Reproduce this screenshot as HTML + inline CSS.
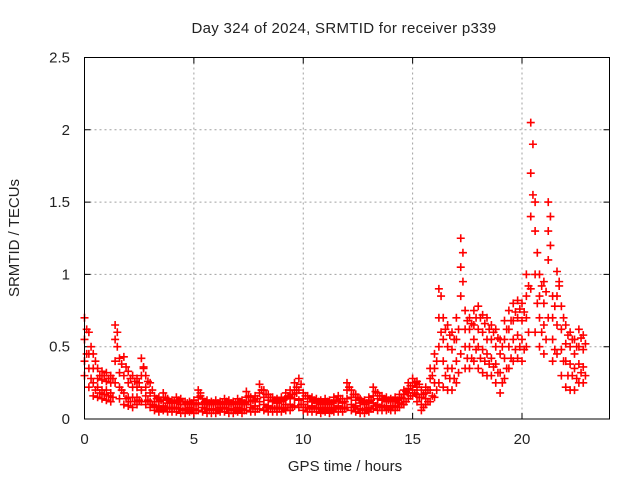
<!DOCTYPE html>
<html><head><meta charset="utf-8"><style>
body{margin:0;background:#fff}
svg{display:block;font-family:"Liberation Sans",sans-serif;font-size:15px;fill:#222}
</style></head><body>
<svg id="chart" width="640" height="480" viewBox="0 0 640 480" xmlns="http://www.w3.org/2000/svg">
<rect width="640" height="480" fill="#fff"/>
<text x="344" y="33" text-anchor="middle" style="letter-spacing:0.3px">Day 324 of 2024, SRMTID for receiver p339</text>
<text transform="translate(19,238) rotate(-90)" text-anchor="middle">SRMTID / TECUs</text>
<text x="345" y="471" text-anchor="middle">GPS time / hours</text>
<g id="grid"></g>
<g id="ticks"></g>
<g id="points"></g>
<rect x="84.5" y="57.5" width="525" height="361.5" fill="none" stroke="#000" stroke-width="1"/>
</svg>
<script>
const xTicks=[0,5,10,15,20];
const yTicks=[0,0.5,1,1.5,2,2.5];
const yTickLabels=["0","0.5","1","1.5","2","2.5"];
const timeStep=0.2;
const seriesLow=[0.30,0.22,0.16,0.15,0.14, 0.13,0.12,0.25,0.14,0.10, 0.09,0.08,0.10,0.12,0.10, 0.08,0.06,0.05,0.06,0.05, 0.05,0.05,0.04,0.04,0.05, 0.04,0.06,0.05,0.04,0.04, 0.04,0.05,0.05,0.04,0.04, 0.05,0.04,0.06,0.05,0.05, 0.07,0.06,0.05,0.05,0.05, 0.05,0.06,0.06,0.09,0.08, 0.06,0.05,0.05,0.05,0.04, 0.05,0.04,0.05,0.05,0.05, 0.08,0.06,0.05,0.04,0.04, 0.05,0.07,0.06,0.06,0.06, 0.06,0.06,0.08,0.10,0.14, 0.16,0.12,0.06,0.10,0.12, 0.15,0.25,0.22,0.20,0.20, 0.25,0.45,0.35,0.35,0.40, 0.35,0.32,0.30,0.30,0.25, 0.18,0.28,0.35,0.40,0.42, 0.40,0.50,0.90,0.60,0.50, 0.45,0.70,0.40,0.45,0.30, 0.22,0.20,0.20,0.25,0.25];
const seriesMidLow=[0.40,0.35,0.25,0.22,0.20, 0.20,0.18,0.40,0.22,0.18, 0.15,0.15,0.15,0.20,0.16, 0.12,0.09,0.08,0.09,0.08, 0.08,0.08,0.07,0.07,0.08, 0.07,0.10,0.08,0.07,0.07, 0.07,0.08,0.08,0.07,0.07, 0.08,0.07,0.10,0.08,0.09, 0.12,0.10,0.09,0.08,0.08, 0.08,0.10,0.10,0.14,0.13, 0.10,0.08,0.09,0.08,0.07, 0.08,0.07,0.08,0.09,0.08, 0.14,0.10,0.09,0.07,0.07, 0.08,0.11,0.10,0.09,0.09, 0.09,0.09,0.11,0.14,0.18, 0.20,0.17,0.10,0.14,0.20, 0.25,0.50,0.40,0.35,0.35, 0.40,0.85,0.50,0.50,0.55, 0.50,0.48,0.45,0.42,0.38, 0.32,0.42,0.50,0.55,0.58, 0.55,0.70,1.40,1.00,0.70, 0.65,1.10,0.55,0.65,0.48, 0.40,0.38,0.35,0.38,0.36];
const seriesMidHigh=[0.55,0.45,0.35,0.28,0.27, 0.26,0.25,0.55,0.32,0.30, 0.25,0.22,0.22,0.30,0.22, 0.18,0.12,0.12,0.13,0.11, 0.11,0.11,0.10,0.10,0.10, 0.10,0.15,0.11,0.10,0.10, 0.10,0.10,0.11,0.10,0.10, 0.11,0.10,0.15,0.12,0.12, 0.18,0.15,0.13,0.12,0.11, 0.12,0.14,0.15,0.20,0.20, 0.14,0.12,0.12,0.11,0.10, 0.11,0.10,0.12,0.12,0.11, 0.20,0.15,0.13,0.11,0.10, 0.12,0.16,0.14,0.13,0.12, 0.12,0.12,0.14,0.17,0.21, 0.23,0.22,0.15,0.18,0.28, 0.35,0.70,0.55,0.50,0.48, 0.55,1.05,0.62,0.62,0.65, 0.62,0.60,0.55,0.55,0.50, 0.45,0.55,0.62,0.68,0.70, 0.68,0.85,1.70,1.30,0.85, 0.80,1.30,0.70,0.85,0.62, 0.52,0.50,0.45,0.50,0.48];
const seriesHigh=[0.70,0.60,0.45,0.35,0.33, 0.32,0.30,0.65,0.42,0.43, 0.33,0.30,0.28,0.42,0.30, 0.25,0.16,0.15,0.18,0.14, 0.13,0.15,0.14,0.12,0.12, 0.13,0.20,0.14,0.13,0.12, 0.13,0.12,0.14,0.13,0.12, 0.14,0.13,0.19,0.15,0.16, 0.24,0.20,0.17,0.15,0.14, 0.15,0.18,0.20,0.25,0.28, 0.18,0.16,0.15,0.14,0.13, 0.14,0.13,0.15,0.16,0.14, 0.25,0.20,0.17,0.14,0.13, 0.15,0.22,0.18,0.16,0.15, 0.14,0.15,0.17,0.20,0.25, 0.28,0.26,0.20,0.22,0.35, 0.45,0.90,0.70,0.65,0.60, 0.70,1.25,0.75,0.70,0.75, 0.78,0.72,0.70,0.65,0.62, 0.55,0.68,0.75,0.80,0.82, 0.80,1.00,2.05,1.50,1.00, 0.95,1.50,0.85,1.02,0.78, 0.65,0.60,0.55,0.62,0.58];
const seriesExtraA=[0.45,0.28,0.20,0.18,0.17, 0.16,0.15,0.60,0.20,0.14, 0.12,0.12,0.13,0.35,0.13, 0.10,0.08,0.07,0.08,0.07, 0.07,0.07,0.06,0.06,0.06, 0.06,0.18,0.07,0.06,0.06, 0.06,0.07,0.07,0.06,0.06, 0.07,0.06,0.12,0.07,0.07, 0.20,0.08,0.07,0.07,0.07, 0.07,0.08,0.08,0.22,0.10, 0.08,0.07,0.07,0.07,0.06, 0.07,0.06,0.07,0.07,0.07, 0.22,0.08,0.07,0.06,0.06, 0.07,0.09,0.08,0.08,0.07, 0.08,0.08,0.10,0.12,0.16, 0.18,0.15,0.08,0.12,0.16, 0.20,0.85,0.30,0.28,0.28, 0.32,1.15,0.42,0.42,0.48, 0.42,0.40,0.38,0.36,0.32, 0.25,0.35,0.42,0.48,0.50, 0.48,0.60,1.90,0.80,0.60, 0.55,1.40,0.48,0.95,0.40, 0.30,0.30,0.28,0.32,0.30];
const seriesExtraB=[0.62,0.50,0.40,0.30,0.30, 0.28,0.28,0.50,0.38,0.36, 0.28,0.26,0.25,0.36,0.26, 0.20,0.14,0.13,0.15,0.12, 0.12,0.13,0.12,0.11,0.11, 0.11,0.16,0.12,0.11,0.11, 0.11,0.11,0.12,0.11,0.11, 0.12,0.11,0.16,0.13,0.14, 0.20,0.17,0.15,0.13,0.12, 0.13,0.16,0.17,0.18,0.24, 0.16,0.14,0.13,0.12,0.11, 0.12,0.11,0.13,0.14,0.12, 0.22,0.17,0.15,0.12,0.11, 0.13,0.19,0.16,0.14,0.13, 0.13,0.13,0.15,0.19,0.23, 0.25,0.24,0.17,0.20,0.30, 0.40,0.60,0.62,0.58,0.55, 0.62,0.95,0.68,0.66,0.70, 0.70,0.66,0.62,0.60,0.56, 0.50,0.62,0.68,0.74,0.76, 0.74,0.92,1.55,1.15,0.92, 0.88,1.20,0.78,0.92,0.70, 0.58,0.55,0.50,0.56,0.52];
const seriesOffsets=[0,0,0,0,0.1,0.1];

const X0=84.5,X1=609.5,Y0=419,Y1=57.5,XMAX=24,YMAX=2.5;
function xs(t){return X0+(X1-X0)*t/XMAX;}
function ys(v){return Y0-(Y0-Y1)*v/YMAX;}
const NS="http://www.w3.org/2000/svg";
const grid=document.getElementById('grid'),ticks=document.getElementById('ticks'),pts=document.getElementById('points'),svg=document.getElementById('chart');
xTicks.forEach(function(t){
  const x=xs(t);
  if(t>0){const g=document.createElementNS(NS,'line');
  
  
  g.setAttribute('x1',x);g.setAttribute('x2',x);g.setAttribute('y1',Y1);g.setAttribute('y2',Y0);
  g.setAttribute('stroke','#a0a0a0');g.setAttribute('stroke-dasharray','2,3');grid.appendChild(g);}
  const tk=document.createElementNS(NS,'path');
  
  
  tk.setAttribute('d','M'+x+' '+Y0+'v-6M'+x+' '+Y1+'v6');tk.setAttribute('stroke','#000');ticks.appendChild(tk);
  const l=document.createElementNS(NS,'text');
  
  
  l.setAttribute('x',x);l.setAttribute('y',444);l.setAttribute('text-anchor','middle');l.textContent=String(t);svg.appendChild(l);
});
yTicks.forEach(function(v,i){
  const y=ys(v);
  if(v>0&&v<YMAX){const g=document.createElementNS(NS,'line');
  
  
  g.setAttribute('x1',X0);g.setAttribute('x2',X1);g.setAttribute('y1',y);g.setAttribute('y2',y);
  g.setAttribute('stroke','#a0a0a0');g.setAttribute('stroke-dasharray','2,3');grid.appendChild(g);}
  const tk=document.createElementNS(NS,'path');
  
  
  tk.setAttribute('d','M'+X0+' '+y+'h6M'+X1+' '+y+'h-6');tk.setAttribute('stroke','#000');ticks.appendChild(tk);
  const l=document.createElementNS(NS,'text');
  
  
  l.setAttribute('x',70);l.setAttribute('y',y+5);l.setAttribute('text-anchor','end');l.textContent=yTickLabels[i];svg.appendChild(l);
});
[seriesLow,seriesMidLow,seriesMidHigh,seriesHigh,seriesExtraA,seriesExtraB].forEach(function(s,k){
  s.forEach(function(v,i){
    const x=xs(i*timeStep+seriesOffsets[k]),y=ys(v);
    const p=document.createElementNS(NS,'path');
    
    
    p.setAttribute('d','M'+(x-4)+' '+y+'h8M'+x+' '+(y-4)+'v8');
    p.setAttribute('stroke','#f00');p.setAttribute('stroke-width','1.6');
    pts.appendChild(p);
  });
});
</script>
</body></html>
